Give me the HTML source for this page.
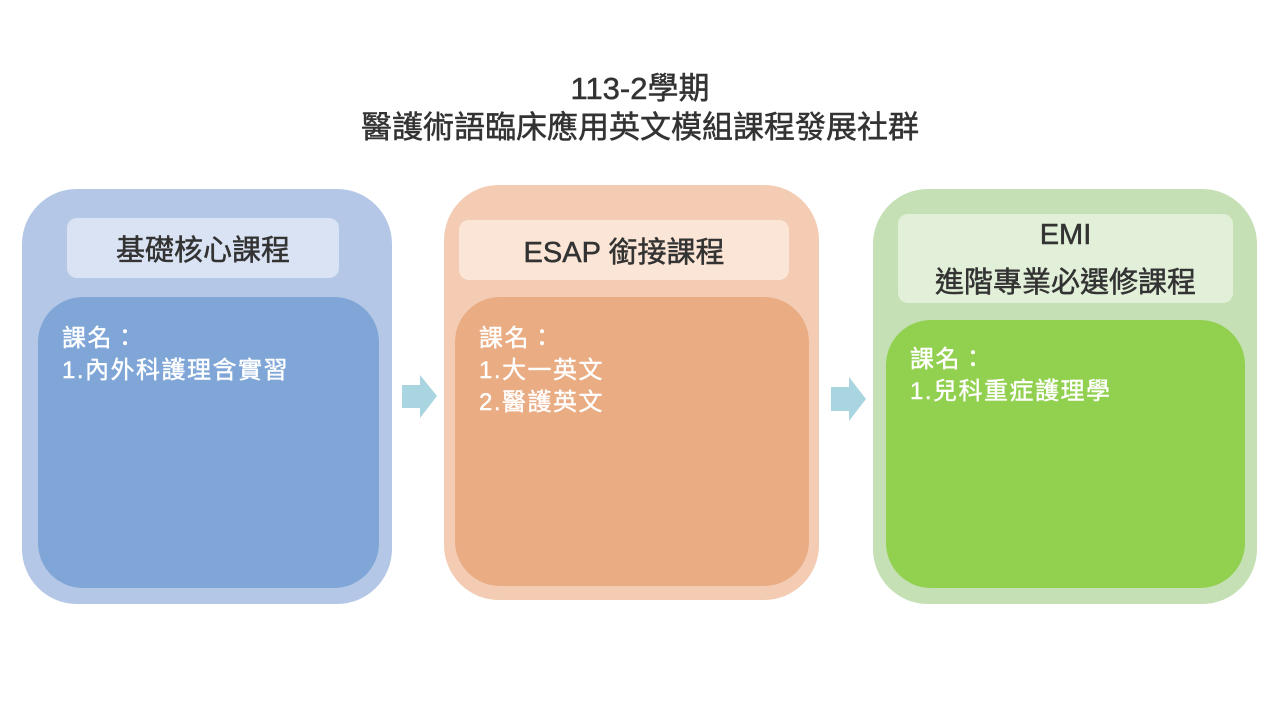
<!DOCTYPE html>
<html><head><meta charset="utf-8"><style>
body{margin:0;width:1280px;height:720px;background:#fff;position:relative;overflow:hidden;font-family:"Liberation Sans","Noto Sans CJK TC",sans-serif}
.a{position:absolute;box-sizing:border-box}
.t{position:absolute;left:0;width:1280px;text-align:center;color:#333;font-size:31px;line-height:40px;-webkit-text-stroke:0.5px #333}
.h{display:flex;align-items:center;justify-content:center;text-align:center;color:#333;font-size:29px;border-radius:10px;-webkit-text-stroke:0.5px #333}
.in{color:#fff;font-size:24px;letter-spacing:1.5px;line-height:32px;padding:26px 0 0 24px;-webkit-text-stroke:0.4px #fff}
</style></head><body>
<div class="t" style="top:69px">113-2學期</div>
<div class="t" style="top:108px">醫護術語臨床應用英文模組課程發展社群</div>

<div class="a" style="left:22px;top:189px;width:370px;height:415px;background:#b4c7e7;border-radius:55px"></div>
<div class="a h" style="left:67px;top:218px;width:272px;height:60px;background:#dae3f3">基礎核心課程</div>
<div class="a in" style="left:38px;top:297px;width:341px;height:291px;background:#7fa6d7;border-radius:45px">課名：<br>1.內外科護理含實習</div>

<div class="a" style="left:444px;top:185px;width:375px;height:415px;background:#f4ccb4;border-radius:55px"></div>
<div class="a h" style="left:459px;top:220px;width:330px;height:60px;background:#fbe5d6">ESAP 銜接課程</div>
<div class="a in" style="left:455px;top:297px;width:354px;height:289px;background:#eaac83;border-radius:45px">課名：<br>1.大一英文<br>2.醫護英文</div>

<div class="a" style="left:873px;top:189px;width:384px;height:415px;background:#c5e0b4;border-radius:55px"></div>
<div class="a h" style="left:898px;top:214px;width:335px;height:89px;background:#e2f0d9;line-height:48px;flex-direction:column">EMI<br>進階專業必選修課程</div>
<div class="a in" style="left:886px;top:320px;width:359px;height:268px;background:#92d050;border-radius:45px;padding-top:24px">課名：<br>1.兒科重症護理學</div>

<svg class="a" style="left:0;top:0" width="1280" height="720">
<polygon points="402,385 420,385 420,375 437,396 420,418 420,408 402,408" fill="#a9d5e0"/>
<polygon points="831,387 849,387 849,377 866,399 849,421 849,411 831,411" fill="#a9d5e0"/>
</svg>
</body></html>
